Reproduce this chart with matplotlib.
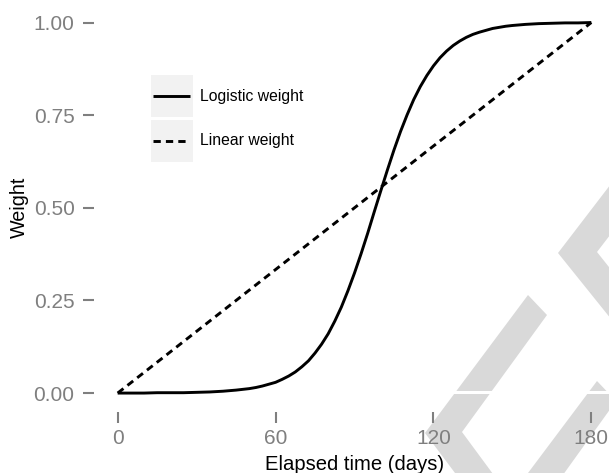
import matplotlib
matplotlib.use('Agg')
import matplotlib.pyplot as plt
from matplotlib.lines import Line2D
from matplotlib.patches import Polygon, Rectangle
from matplotlib.legend_handler import HandlerLine2D
from matplotlib.transforms import Affine2D

matplotlib.rcParams['font.family'] = 'Liberation Sans'

# elapsed days and the two weighting schemes
days = [0, 5, 10, 15, 20, 25, 30, 35, 40, 45, 50, 52.5, 55, 57.5, 60, 62.5, 65,
        67.5, 70, 72.5, 75, 77.5, 80, 82.5, 85, 87.5, 90, 92.5, 95, 97.5, 100,
        102.5, 105, 107.5, 110, 112.5, 115, 117.5, 120, 122.5, 125, 127.5, 130,
        132.5, 135, 137.5, 140, 142.5, 145, 147.5, 150, 155, 160, 165, 170, 175, 180]
logistic_weight = [0.000, 0.000, 0.000, 0.001, 0.001, 0.001, 0.002, 0.003, 0.005,
                   0.008, 0.012, 0.015, 0.019, 0.024, 0.029, 0.037, 0.046,
                   0.057, 0.071, 0.087, 0.108, 0.132, 0.160, 0.194, 0.232,
                   0.276, 0.324, 0.376, 0.431, 0.489, 0.546,
                   0.602, 0.656, 0.706, 0.751, 0.792, 0.827, 0.857, 0.883,
                   0.905, 0.923, 0.938, 0.950, 0.960, 0.968, 0.974, 0.979,
                   0.984, 0.987, 0.990, 0.992, 0.995, 0.997, 0.998, 0.999, 0.999, 1.000]
linear_days = [0, 180]
linear_weight = [0.0, 1.0]

x_ticks = [0, 60, 120, 180]
y_ticks = [0.0, 0.25, 0.5, 0.75, 1.0]
y_tick_labels = ['0.00', '0.25', '0.50', '0.75', '1.00']

W, H = 609, 473
fig = plt.figure(figsize=(W / 100, H / 100), dpi=100)
fig.patch.set_facecolor('white')
# pixel coordinates measured from the top-left corner
pix = Affine2D().scale(1 / W, -1 / H).translate(0, 1) + fig.transFigure

# grey chevron watermark in the lower right
wm = '#d9d9d9'
shapes = [
    [(640, 146), (558, 253), (640, 355), (640, 306), (597, 252), (640, 196)],
    [(528, 295), (425, 433), (470, 493), (507, 493), (462, 432), (547, 315)],
    [(597, 381), (513, 493), (550, 493), (616, 401)],
]
for pts in shapes:
    fig.patches.append(Polygon(pts, closed=True, facecolor=wm, edgecolor='none',
                               transform=pix, zorder=-2))
fig.patches.append(Rectangle((400, 391), 240, 2.5, facecolor='white', edgecolor='none',
                             transform=pix, zorder=-1))

ax = fig.add_axes([94 / W, 1 - 411.6 / H, (615 - 94) / W, (411.6 - 4) / H])
ax.patch.set_visible(False)

ax.plot(days, logistic_weight, color='black', lw=2.1, solid_capstyle='butt',
        solid_joinstyle='round', label='Logistic weight')
ax.plot(linear_days, linear_weight, color='black', lw=2.1, linestyle=(0, (2.5, 1.75)),
        dash_capstyle='butt', label='Linear weight')

ax.set_xlim(-9, 189)
ax.set_ylim(-0.05, 1.05)
ax.set_xticks(x_ticks)
ax.set_xticklabels([str(v) for v in x_ticks])
ax.set_yticks(y_ticks)
ax.set_yticklabels(y_tick_labels)
for s in ax.spines.values():
    s.set_visible(False)
ax.tick_params(axis='both', length=8.2, width=1.5, color='#7f7f7f',
               labelcolor='#7f7f7f', labelsize=15)
ax.tick_params(axis='y', pad=5.8)
ax.tick_params(axis='x', pad=4.5)
ax.set_xlabel('Elapsed time (days)', fontsize=14.6, labelpad=5)
ax.set_ylabel('Weight', fontsize=14.2, labelpad=3)


class KeyBox(HandlerLine2D):
    # legend key drawn on a light grey square, line through its middle
    def create_artists(self, legend, orig_handle, xdescent, ydescent, width, height,
                       fontsize, trans):
        box = Rectangle((-xdescent, -ydescent), width, height, facecolor='#f2f2f2',
                        edgecolor='none', transform=trans)
        inset = 2
        arts = super().create_artists(legend, orig_handle, xdescent - inset, ydescent,
                                      width - 2 * inset, height - ydescent, fontsize, trans)
        return [box] + list(arts)


handles, labels = ax.get_legend_handles_labels()
leg = ax.legend(handles, labels, loc='upper left',
                bbox_to_anchor=(150.7 / W, 1 - 75.3 / H), bbox_transform=fig.transFigure,
                frameon=False, fontsize=11.3, borderpad=0, borderaxespad=0,
                handlelength=2.67, handleheight=3.735, labelspacing=0.17,
                handletextpad=0.45, handler_map={Line2D: KeyBox()})

plt.savefig('out.png', dpi=100)
